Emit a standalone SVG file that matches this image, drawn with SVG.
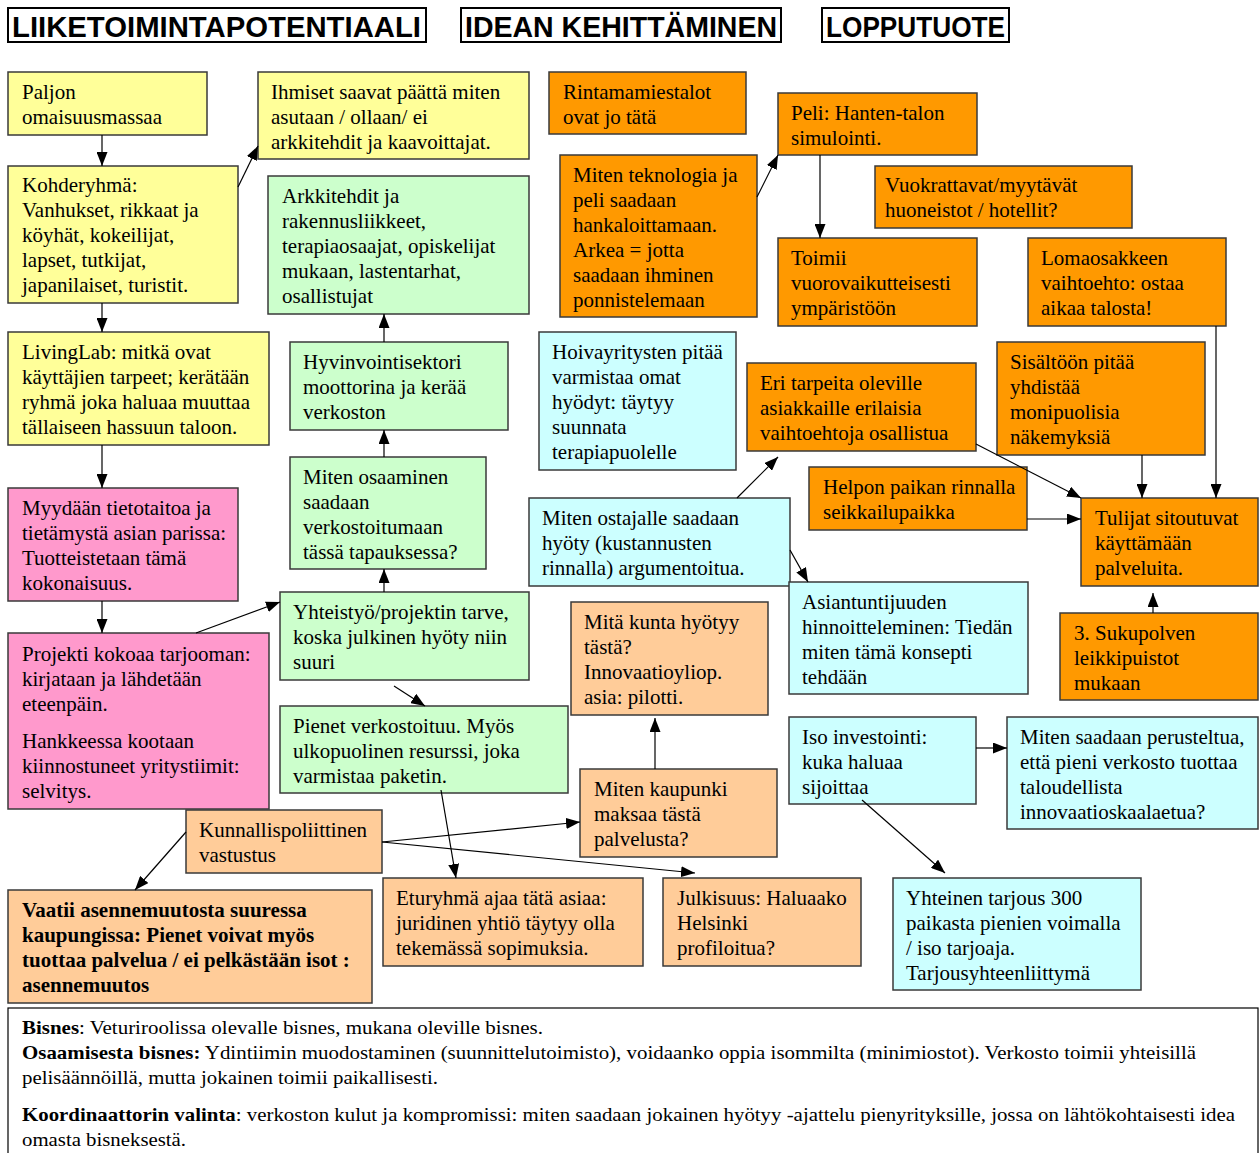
<svg xmlns="http://www.w3.org/2000/svg" width="1259" height="1153" viewBox="0 0 1259 1153">
<style>
.b{stroke:#3a3a3a;stroke-width:1.5}
.y{fill:#FFFF99}.g{fill:#CCFFCC}.p{fill:#FF99CC}.lo{fill:#FFCC99}.o{fill:#FF9900}.c{fill:#CCFFFF}
.t{font-family:"Liberation Serif","Times New Roman",serif;font-size:21px;fill:#000}
.bd{font-weight:bold}
.h{font-family:"Liberation Sans",Arial,sans-serif;font-weight:bold;font-size:29px;fill:#000}
.hb{fill:#fff;stroke:#000;stroke-width:2}
.ft{font-family:"Liberation Serif","Times New Roman",serif;font-size:19px;fill:#000}
.cn line{stroke:#000;stroke-width:1.2;marker-end:url(#ah)}
</style>
<defs>
<marker id="ah" viewBox="0 0 14 11" refX="14" refY="5.5" markerWidth="14" markerHeight="11" markerUnits="userSpaceOnUse" orient="auto">
<path d="M0,0 L14,5.5 L0,11 z" fill="#000"/>
</marker>
</defs>
<rect width="1259" height="1153" fill="#fff"/>

<g id="header1"><rect class="hb" x="8" y="8" width="418" height="34"/><text class="h" x="12" y="37" textLength="409" lengthAdjust="spacingAndGlyphs">LIIKETOIMINTAPOTENTIAALI</text></g>
<g id="header2"><rect class="hb" x="461" y="8" width="320" height="34"/><text class="h" x="465" y="37" textLength="312" lengthAdjust="spacingAndGlyphs">IDEAN KEHITTÄMINEN</text></g>
<g id="header3"><rect class="hb" x="822" y="8" width="187" height="34"/><text class="h" x="826" y="37" textLength="179" lengthAdjust="spacingAndGlyphs">LOPPUTUOTE</text></g>

<g id="n1"><rect class="b y" x="8" y="72" width="199" height="63"/><text class="t" y="99"><tspan x="22">Paljon</tspan><tspan x="22" dy="25">omaisuusmassaa</tspan></text></g>
<g id="n2"><rect class="b y" x="258" y="72" width="271" height="87"/><text class="t" y="99"><tspan x="271">Ihmiset saavat päättä miten</tspan><tspan x="271" dy="25">asutaan / ollaan/ ei</tspan><tspan x="271" dy="25">arkkitehdit ja kaavoittajat.</tspan></text></g>
<g id="n3"><rect class="b y" x="8" y="166" width="230" height="137"/><text class="t" y="192"><tspan x="22">Kohderyhmä:</tspan><tspan x="22" dy="25">Vanhukset, rikkaat ja</tspan><tspan x="22" dy="25">köyhät, kokeilijat,</tspan><tspan x="22" dy="25">lapset, tutkijat,</tspan><tspan x="22" dy="25">japanilaiset, turistit.</tspan></text></g>
<g id="n4"><rect class="b g" x="268" y="176" width="261" height="138"/><text class="t" y="203"><tspan x="282">Arkkitehdit ja</tspan><tspan x="282" dy="25">rakennusliikkeet,</tspan><tspan x="282" dy="25">terapiaosaajat, opiskelijat</tspan><tspan x="282" dy="25">mukaan, lastentarhat,</tspan><tspan x="282" dy="25">osallistujat</tspan></text></g>
<g id="n5"><rect class="b y" x="8" y="332" width="261" height="113"/><text class="t" y="359"><tspan x="22">LivingLab: mitkä ovat</tspan><tspan x="22" dy="25">käyttäjien tarpeet; kerätään</tspan><tspan x="22" dy="25">ryhmä joka haluaa muuttaa</tspan><tspan x="22" dy="25">tällaiseen hassuun taloon.</tspan></text></g>
<g id="n6"><rect class="b g" x="290" y="342" width="218" height="88"/><text class="t" y="369"><tspan x="303">Hyvinvointisektori</tspan><tspan x="303" dy="25">moottorina ja kerää</tspan><tspan x="303" dy="25">verkoston</tspan></text></g>
<g id="n7"><rect class="b g" x="290" y="457" width="196" height="112"/><text class="t" y="484"><tspan x="303">Miten osaaminen</tspan><tspan x="303" dy="25">saadaan</tspan><tspan x="303" dy="25">verkostoitumaan</tspan><tspan x="303" dy="25">tässä tapauksessa?</tspan></text></g>
<g id="n8"><rect class="b p" x="8" y="488" width="230" height="113"/><text class="t" y="515"><tspan x="22">Myydään tietotaitoa ja</tspan><tspan x="22" dy="25">tietämystä asian parissa:</tspan><tspan x="22" dy="25">Tuotteistetaan tämä</tspan><tspan x="22" dy="25">kokonaisuus.</tspan></text></g>
<g id="n9"><rect class="b p" x="8" y="633" width="261" height="176"/><text class="t" y="661"><tspan x="22">Projekti kokoaa tarjooman:</tspan><tspan x="22" dy="25">kirjataan ja lähdetään</tspan><tspan x="22" dy="25">eteenpäin.</tspan><tspan x="22" dy="37">Hankkeessa kootaan</tspan><tspan x="22" dy="25">kiinnostuneet yritystiimit:</tspan><tspan x="22" dy="25">selvitys.</tspan></text></g>
<g id="n10"><rect class="b g" x="280" y="592" width="249" height="88"/><text class="t" y="619"><tspan x="293">Yhteistyö/projektin tarve,</tspan><tspan x="293" dy="25">koska julkinen hyöty niin</tspan><tspan x="293" dy="25">suuri</tspan></text></g>
<g id="n11"><rect class="b g" x="280" y="706" width="288" height="87"/><text class="t" y="733"><tspan x="293">Pienet verkostoituu. Myös</tspan><tspan x="293" dy="25">ulkopuolinen resurssi, joka</tspan><tspan x="293" dy="25">varmistaa paketin.</tspan></text></g>
<g id="n12"><rect class="b lo" x="571" y="602" width="197" height="113"/><text class="t" y="629"><tspan x="584">Mitä kunta hyötyy</tspan><tspan x="584" dy="25">tästä?</tspan><tspan x="584" dy="25">Innovaatioyliop.</tspan><tspan x="584" dy="25">asia: pilotti.</tspan></text></g>
<g id="n13"><rect class="b lo" x="580" y="769" width="197" height="88"/><text class="t" y="796"><tspan x="594">Miten kaupunki</tspan><tspan x="594" dy="25">maksaa tästä</tspan><tspan x="594" dy="25">palvelusta?</tspan></text></g>
<g id="n14"><rect class="b lo" x="186" y="810" width="196" height="63"/><text class="t" y="837"><tspan x="199">Kunnallispoliittinen</tspan><tspan x="199" dy="25">vastustus</tspan></text></g>
<g id="n15"><rect class="b lo" x="8" y="890" width="364" height="113"/><text class="t bd" y="917"><tspan x="22">Vaatii asennemuutosta suuressa</tspan><tspan x="22" dy="25">kaupungissa: Pienet voivat myös</tspan><tspan x="22" dy="25">tuottaa palvelua / ei pelkästään isot :</tspan><tspan x="22" dy="25">asennemuutos</tspan></text></g>
<g id="n16"><rect class="b lo" x="383" y="878" width="260" height="88"/><text class="t" y="905"><tspan x="396">Eturyhmä ajaa tätä asiaa:</tspan><tspan x="396" dy="25">juridinen yhtiö täytyy olla</tspan><tspan x="396" dy="25">tekemässä sopimuksia.</tspan></text></g>
<g id="n17"><rect class="b lo" x="663" y="878" width="198" height="88"/><text class="t" y="905"><tspan x="677">Julkisuus: Haluaako</tspan><tspan x="677" dy="25">Helsinki</tspan><tspan x="677" dy="25">profiloitua?</tspan></text></g>
<g id="n18"><rect class="b o" x="549" y="72" width="197" height="62"/><text class="t" y="99"><tspan x="563">Rintamamiestalot</tspan><tspan x="563" dy="25">ovat jo tätä</tspan></text></g>
<g id="n19"><rect class="b o" x="778" y="93" width="199" height="62"/><text class="t" y="120"><tspan x="791">Peli: Hanten-talon</tspan><tspan x="791" dy="25">simulointi.</tspan></text></g>
<g id="n20"><rect class="b o" x="560" y="155" width="197" height="162"/><text class="t" y="182"><tspan x="573">Miten teknologia ja</tspan><tspan x="573" dy="25">peli saadaan</tspan><tspan x="573" dy="25">hankaloittamaan.</tspan><tspan x="573" dy="25">Arkea = jotta</tspan><tspan x="573" dy="25">saadaan ihminen</tspan><tspan x="573" dy="25">ponnistelemaan</tspan></text></g>
<g id="n21"><rect class="b o" x="875" y="166" width="257" height="62"/><text class="t" y="192"><tspan x="885">Vuokrattavat/myytävät</tspan><tspan x="885" dy="25">huoneistot / hotellit?</tspan></text></g>
<g id="n22"><rect class="b o" x="778" y="238" width="199" height="88"/><text class="t" y="265"><tspan x="791">Toimii</tspan><tspan x="791" dy="25">vuorovaikutteisesti</tspan><tspan x="791" dy="25">ympäristöön</tspan></text></g>
<g id="n23"><rect class="b o" x="1028" y="238" width="198" height="88"/><text class="t" y="265"><tspan x="1041">Lomaosakkeen</tspan><tspan x="1041" dy="25">vaihtoehto: ostaa</tspan><tspan x="1041" dy="25">aikaa talosta!</tspan></text></g>
<g id="n24"><rect class="b c" x="539" y="332" width="197" height="138"/><text class="t" y="359"><tspan x="552">Hoivayritysten pitää</tspan><tspan x="552" dy="25">varmistaa omat</tspan><tspan x="552" dy="25">hyödyt: täytyy</tspan><tspan x="552" dy="25">suunnata</tspan><tspan x="552" dy="25">terapiapuolelle</tspan></text></g>
<g id="n25"><rect class="b o" x="747" y="363" width="229" height="88"/><text class="t" y="390"><tspan x="760">Eri tarpeita oleville</tspan><tspan x="760" dy="25">asiakkaille erilaisia</tspan><tspan x="760" dy="25">vaihtoehtoja osallistua</tspan></text></g>
<g id="n26"><rect class="b o" x="997" y="342" width="208" height="113"/><text class="t" y="369"><tspan x="1010">Sisältöön pitää</tspan><tspan x="1010" dy="25">yhdistää</tspan><tspan x="1010" dy="25">monipuolisia</tspan><tspan x="1010" dy="25">näkemyksiä</tspan></text></g>
<g id="n27"><rect class="b o" x="809" y="467" width="218" height="63"/><text class="t" y="494"><tspan x="823">Helpon paikan rinnalla</tspan><tspan x="823" dy="25">seikkailupaikka</tspan></text></g>
<g id="n28"><rect class="b c" x="529" y="498" width="261" height="88"/><text class="t" y="525"><tspan x="542">Miten ostajalle saadaan</tspan><tspan x="542" dy="25">hyöty (kustannusten</tspan><tspan x="542" dy="25">rinnalla) argumentoitua.</tspan></text></g>
<g id="n29"><rect class="b o" x="1081" y="498" width="177" height="88"/><text class="t" y="525"><tspan x="1095">Tulijat sitoutuvat</tspan><tspan x="1095" dy="25">käyttämään</tspan><tspan x="1095" dy="25">palveluita.</tspan></text></g>
<g id="n30"><rect class="b c" x="789" y="582" width="239" height="112"/><text class="t" y="609"><tspan x="802">Asiantuntijuuden</tspan><tspan x="802" dy="25">hinnoitteleminen: Tiedän</tspan><tspan x="802" dy="25">miten tämä konsepti</tspan><tspan x="802" dy="25">tehdään</tspan></text></g>
<g id="n31"><rect class="b o" x="1060" y="613" width="198" height="87"/><text class="t" y="640"><tspan x="1074">3. Sukupolven</tspan><tspan x="1074" dy="25">leikkipuistot</tspan><tspan x="1074" dy="25">mukaan</tspan></text></g>
<g id="n32"><rect class="b c" x="789" y="717" width="187" height="87"/><text class="t" y="744"><tspan x="802">Iso investointi:</tspan><tspan x="802" dy="25">kuka haluaa</tspan><tspan x="802" dy="25">sijoittaa</tspan></text></g>
<g id="n33"><rect class="b c" x="1007" y="717" width="251" height="112"/><text class="t" y="744"><tspan x="1020">Miten saadaan perusteltua,</tspan><tspan x="1020" dy="25">että pieni verkosto tuottaa</tspan><tspan x="1020" dy="25">taloudellista</tspan><tspan x="1020" dy="25">innovaatioskaalaetua?</tspan></text></g>
<g id="n34"><rect class="b c" x="893" y="878" width="248" height="112"/><text class="t" y="905"><tspan x="906">Yhteinen tarjous 300</tspan><tspan x="906" dy="25">paikasta pienien voimalla</tspan><tspan x="906" dy="25">/ iso tarjoaja.</tspan><tspan x="906" dy="25">Tarjousyhteenliittymä</tspan></text></g>

<g id="notes"><rect x="8" y="1008" width="1250" height="160" fill="#fff" stroke="#000" stroke-width="1.2"/>
<text class="ft" x="22" y="1034" textLength="521" lengthAdjust="spacingAndGlyphs"><tspan font-weight="bold">Bisnes</tspan>: Veturiroolissa olevalle bisnes, mukana oleville bisnes.</text>
<text class="ft" x="22" y="1059" textLength="1174" lengthAdjust="spacingAndGlyphs"><tspan font-weight="bold">Osaamisesta bisnes:</tspan> Ydintiimin muodostaminen (suunnittelutoimisto), voidaanko oppia isommilta (minimiostot). Verkosto toimii yhteisillä</text>
<text class="ft" x="22" y="1084" textLength="416" lengthAdjust="spacingAndGlyphs">pelisäännöillä, mutta jokainen toimii paikallisesti.</text>
<text class="ft" x="22" y="1121" textLength="1213" lengthAdjust="spacingAndGlyphs"><tspan font-weight="bold">Koordinaattorin valinta</tspan>: verkoston kulut ja kompromissi: miten saadaan jokainen hyötyy -ajattelu pienyrityksille, jossa on lähtökohtaisesti idea</text>
<text class="ft" x="22" y="1146" textLength="164" lengthAdjust="spacingAndGlyphs">omasta bisneksestä.</text>
</g>

<g id="connectors" class="cn">
<line x1="102" y1="135" x2="102" y2="166"/>
<line x1="238" y1="187" x2="258" y2="146"/>
<line x1="102" y1="303" x2="102" y2="332"/>
<line x1="102" y1="445" x2="102" y2="488"/>
<line x1="102" y1="601" x2="102" y2="633"/>
<line x1="196" y1="633" x2="280" y2="602"/>
<line x1="384" y1="592" x2="384" y2="569"/>
<line x1="384" y1="457" x2="384" y2="430"/>
<line x1="384" y1="342" x2="384" y2="314"/>
<line x1="394" y1="686" x2="425" y2="706"/>
<line x1="441" y1="790" x2="456" y2="878"/>
<line x1="382" y1="842" x2="580" y2="822"/>
<line x1="382" y1="842" x2="695" y2="873"/>
<line x1="186" y1="832" x2="135" y2="890"/>
<line x1="655" y1="769" x2="655" y2="718"/>
<line x1="757" y1="197" x2="778" y2="155"/>
<line x1="820" y1="155" x2="820" y2="238"/>
<line x1="1216" y1="326" x2="1216" y2="498"/>
<line x1="1142" y1="455" x2="1142" y2="498"/>
<line x1="976" y1="444" x2="1081" y2="498"/>
<line x1="1027" y1="519" x2="1081" y2="519"/>
<line x1="737" y1="498" x2="778" y2="457"/>
<line x1="790" y1="550" x2="808" y2="582"/>
<line x1="1153" y1="613" x2="1153" y2="593"/>
<line x1="976" y1="748" x2="1007" y2="748"/>
<line x1="862" y1="800" x2="945" y2="873"/>
</g>
</svg>
